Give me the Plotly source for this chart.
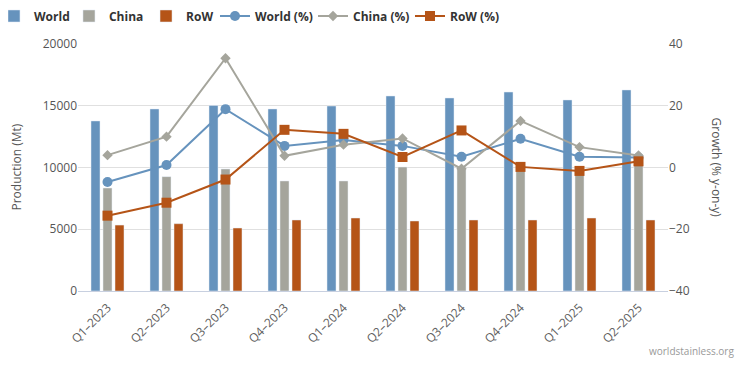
import plotly.graph_objects as go

quarters = ["Q1–2023", "Q2–2023", "Q3–2023", "Q4–2023", "Q1–2024",
            "Q2–2024", "Q3–2024", "Q4–2024", "Q1–2025", "Q2–2025"]
world = [13770, 14740, 15030, 14740, 14980, 15790, 15630, 16110, 15470, 16280]
china = [8340, 9260, 9880, 8910, 8910, 10040, 9880, 10050, 9660, 10450]
row = [5340, 5450, 5100, 5750, 5910, 5670, 5750, 5750, 5910, 5750]
world_pct = [-4.7, 0.8, 18.9, 7.0, 8.9, 7.0, 3.5, 9.3, 3.5, 3.2]
china_pct = [4.0, 10.0, 35.4, 3.8, 7.4, 9.4, -0.4, 15.1, 6.6, 3.9]
row_pct = [-15.6, -11.4, -3.9, 12.2, 10.9, 3.4, 12.0, 0.2, -1.1, 2.0]

BLUE = "#6693bd"
GRAY = "#a5a59c"
ORANGE = "#b55417"
FONT = "Open Sans"

fig = go.Figure()
fig.add_trace(go.Bar(x=quarters, y=world, name="World", marker_color=BLUE,
                     legend="legend"))
fig.add_trace(go.Bar(x=quarters, y=china, name="China", marker_color=GRAY,
                     legend="legend2"))
fig.add_trace(go.Bar(x=quarters, y=row, name="RoW", marker_color=ORANGE,
                     legend="legend3"))
fig.add_trace(go.Scatter(x=quarters, y=world_pct, name="World (%)", yaxis="y2",
                         mode="lines+markers", line=dict(color=BLUE, width=2),
                         marker=dict(symbol="circle", size=10, color=BLUE),
                         legend="legend4"))
fig.add_trace(go.Scatter(x=quarters, y=china_pct, name="China (%)", yaxis="y2",
                         mode="lines+markers", line=dict(color=GRAY, width=2),
                         marker=dict(symbol="diamond", size=8, color=GRAY),
                         legend="legend5"))
fig.add_trace(go.Scatter(x=quarters, y=row_pct, name="RoW (%)", yaxis="y2",
                         mode="lines+markers", line=dict(color=ORANGE, width=2),
                         marker=dict(symbol="square", size=10, color=ORANGE),
                         legend="legend6"))

legend_x = [-0.1424, -0.0153, 0.1153, 0.2322, 0.3983, 0.5627]
legend_common = dict(orientation="h", xanchor="left", y=1.1134, yanchor="middle",
                     font=dict(family=FONT, size=12, color="#333333", weight="bold"),
                     itemwidth=30, bgcolor="rgba(0,0,0,0)")
legends = {}
for i, lx in enumerate(legend_x):
    key = "legend" if i == 0 else f"legend{i+1}"
    legends[key] = dict(legend_common, x=lx)

fig.update_layout(
    width=743, height=374,
    margin=dict(l=70, r=83, t=36, b=91, autoexpand=False),
    plot_bgcolor="white", paper_bgcolor="white",
    font=dict(family=FONT, size=12, color="#555555"),
    barmode="group", bargap=0.39, bargroupgap=0.25,
    showlegend=True,
    xaxis=dict(range=[-0.5, len(quarters) - 0.5], tickangle=-45, showline=True,
               linecolor="#c8d0e0", linewidth=1, ticks="", ticklabelstandoff=4,
               tickfont=dict(size=12, color="#606060")),
    yaxis=dict(range=[0, 20000], dtick=5000, tickformat="d", gridcolor="#e0e0e0",
               zeroline=False, tickfont=dict(size=12, color="#555555"), ticks="",
               showline=False),
    yaxis2=dict(range=[-40, 40], dtick=20, overlaying="y", side="right",
                showgrid=False, zeroline=False,
                tickfont=dict(size=12, color="#555555"), ticks=""),
    annotations=[
        dict(text="Production (Mt)", xref="paper", yref="paper", x=-0.105, y=0.5,
             textangle=-90, showarrow=False, font=dict(size=12, color="#555555"),
             xanchor="center", yanchor="middle"),
        dict(text="Growth (% y-on-y)", xref="paper", yref="paper", x=1.083, y=0.5,
             textangle=90, showarrow=False, font=dict(size=12, color="#555555"),
             xanchor="center", yanchor="middle"),
        dict(text="worldstainless.org", xref="paper", yref="paper", x=1.115, y=-0.243,
             showarrow=False, font=dict(size=10, color="#999999"),
             xanchor="right", yanchor="middle"),
    ],
    **legends,
)

fig.write_html("out.html")
